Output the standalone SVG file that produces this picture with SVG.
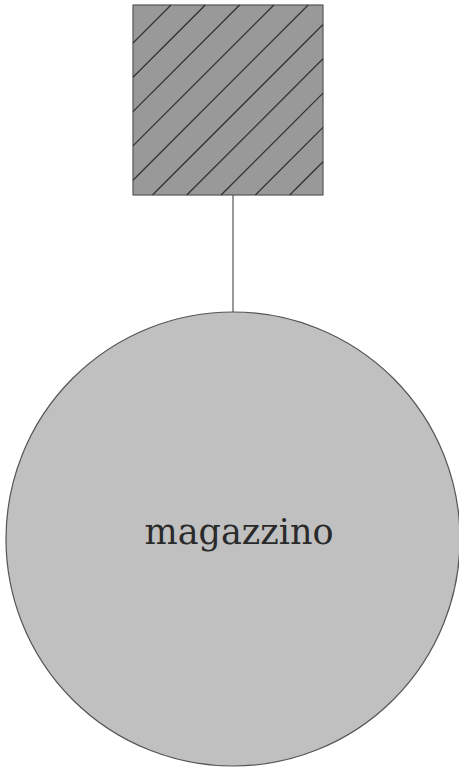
<svg xmlns="http://www.w3.org/2000/svg" width="459" height="771" viewBox="0 0 459 771">
<style>
.edge{stroke:#555;stroke-width:1.2;fill:none}
.hatch{stroke:#333;stroke-width:1.3}
.label{font-family:"DejaVu Serif",serif;font-size:35px;fill:#2a2a2a}
</style>
<rect width="459" height="771" fill="#fff"/>
<g id="connectors">
<line class="edge" x1="233" y1="195" x2="233" y2="312"/>
</g>
<g id="node-square">
<rect x="133" y="5" width="190" height="190" fill="#999" stroke="#555" stroke-width="1.2"/>
<g class="hatch">
<line x1="133" y1="43" x2="171" y2="5"/>
<line x1="133" y1="77.3" x2="205.3" y2="5"/>
<line x1="133" y1="111.6" x2="239.6" y2="5"/>
<line x1="133" y1="145.9" x2="273.9" y2="5"/>
<line x1="133" y1="180.2" x2="308.2" y2="5"/>
<line x1="152.5" y1="195" x2="323" y2="24.5"/>
<line x1="186.8" y1="195" x2="323" y2="58.8"/>
<line x1="221.1" y1="195" x2="323" y2="93.1"/>
<line x1="255.4" y1="195" x2="323" y2="127.4"/>
<line x1="289.7" y1="195" x2="323" y2="161.7"/>
</g>
</g>
<g id="node-magazzino">
<circle cx="233" cy="539" r="227" fill="#c0c0c0" stroke="#555" stroke-width="1.2"/>
<text class="label" x="239" y="544" text-anchor="middle">magazzino</text>
</g>
</svg>
